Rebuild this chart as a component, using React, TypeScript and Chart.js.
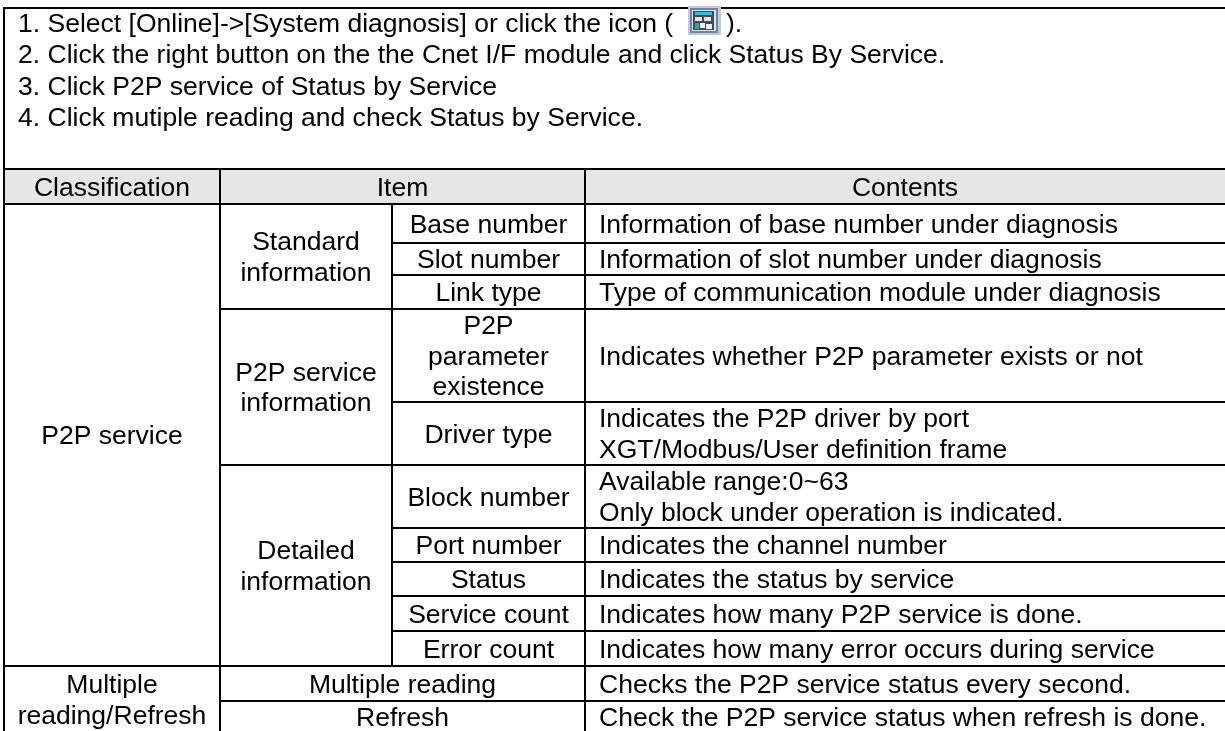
import React, { useEffect, useRef } from "react";
import { Chart, registerables } from "chart.js";

Chart.register(...registerables);

const FONT = '"Liberation Sans", Arial, sans-serif';
const FONT_SIZE = 25.5;
const H_STRETCH = 1.04;
const LINE_GAP = 30.5;

const introLines = [
  "1. Select [Online]->[System diagnosis] or click the icon (",
  "2. Click the right button on the the Cnet I/F module and click Status By Service.",
  "3. Click P2P service of Status by Service",
  "4. Click mutiple reading and check Status by Service.",
];
const iconCloseText = ").";
const introBaselines = [32, 63, 95, 126];

const colEdges = [4, 220, 392, 585, 1225];
const rowEdges = [8, 169, 204, 243, 275, 309, 402, 465, 528, 562, 596, 631, 666, 701, 733];

// [col from, col to, row from, row to, text lines, align]
const cells: [number, number, number, number, string[], string][] = [
  [0, 1, 1, 2, ["Classification"], "center"],
  [1, 3, 1, 2, ["Item"], "center"],
  [3, 4, 1, 2, ["Contents"], "center"],
  [0, 1, 2, 12, ["P2P service"], "center"],
  [1, 2, 2, 5, ["Standard", "information"], "center"],
  [1, 2, 5, 7, ["P2P service", "information"], "center"],
  [1, 2, 7, 12, ["Detailed", "information"], "center"],
  [2, 3, 2, 3, ["Base number"], "center"],
  [2, 3, 3, 4, ["Slot number"], "center"],
  [2, 3, 4, 5, ["Link type"], "center"],
  [2, 3, 5, 6, ["P2P", "parameter", "existence"], "center"],
  [2, 3, 6, 7, ["Driver type"], "center"],
  [2, 3, 7, 8, ["Block number"], "center"],
  [2, 3, 8, 9, ["Port number"], "center"],
  [2, 3, 9, 10, ["Status"], "center"],
  [2, 3, 10, 11, ["Service count"], "center"],
  [2, 3, 11, 12, ["Error count"], "center"],
  [3, 4, 2, 3, ["Information of base number under diagnosis"], "left"],
  [3, 4, 3, 4, ["Information of slot number under diagnosis"], "left"],
  [3, 4, 4, 5, ["Type of communication module under diagnosis"], "left"],
  [3, 4, 5, 6, ["Indicates whether P2P parameter exists or not"], "left"],
  [3, 4, 6, 7, ["Indicates the P2P driver by port", "XGT/Modbus/User definition frame"], "left"],
  [3, 4, 7, 8, ["Available range:0~63", "Only block under operation is indicated."], "left"],
  [3, 4, 8, 9, ["Indicates the channel number"], "left"],
  [3, 4, 9, 10, ["Indicates the status by service"], "left"],
  [3, 4, 10, 11, ["Indicates how many P2P service is done."], "left"],
  [3, 4, 11, 12, ["Indicates how many error occurs during service"], "left"],
  [0, 1, 12, 14, ["Multiple", "reading/Refresh"], "center"],
  [1, 3, 12, 13, ["Multiple reading"], "center"],
  [1, 3, 13, 14, ["Refresh"], "center"],
  [3, 4, 12, 13, ["Checks the P2P service status every second."], "left"],
  [3, 4, 13, 14, ["Check the P2P service status when refresh is done."], "left"],
];

// Table rules: [x-edge from, x-edge to, y-edge from, y-edge to]
const rules: [number, number, number, number][] = [
  [0, 4, 0, 0],
  [0, 4, 1, 1],
  [0, 4, 2, 2],
  [2, 4, 3, 3],
  [2, 4, 4, 4],
  [1, 4, 5, 5],
  [2, 4, 6, 6],
  [1, 4, 7, 7],
  [2, 4, 8, 8],
  [2, 4, 9, 9],
  [2, 4, 10, 10],
  [2, 4, 11, 11],
  [0, 4, 12, 12],
  [1, 4, 13, 13],
  [0, 0, 0, 14],
  [1, 1, 1, 14],
  [2, 2, 2, 12],
  [3, 3, 1, 14],
];

// Toolbar icon: [x, y, w, h, colour]
const iconParts: [number, number, number, number, string][] = [
  [688, 6, 33, 29, "#c3c9d6"],
  [690, 8, 28, 25, "#6f83a8"],
  [692, 10, 24, 21, "#dfe3ea"],
  [693, 11, 21, 19, "#3c4a63"],
  [695, 12, 17, 3, "#37c2d8"],
  [695, 17, 7, 4, "#e8e8e8"],
  [704, 17, 7, 4, "#e8e8e8"],
  [695, 23, 4, 6, "#2fa7a0"],
  [700, 23, 5, 5, "#f4f4f4"],
  [706, 24, 6, 5, "#f4f4f4"],
];

const tablePlugin = {
  id: "tableCells",
  beforeDatasetsDraw(chart: any) {
    const { ctx, scales } = chart;
    const X = (v: number) => scales.x.getPixelForValue(v);
    const Y = (v: number) => scales.y.getPixelForValue(v);
    ctx.save();
    ctx.fillStyle = "#e6e6e6";
    ctx.fillRect(X(colEdges[0]), Y(rowEdges[1]), X(colEdges[4]) - X(colEdges[0]), Y(rowEdges[2]) - Y(rowEdges[1]));
    ctx.restore();
  },
  afterDatasetsDraw(chart: any) {
    const { ctx, scales } = chart;
    const X = (v: number) => scales.x.getPixelForValue(v);
    const Y = (v: number) => scales.y.getPixelForValue(v);
    const put = (t: string, x: number, y: number, align: string) => {
      ctx.save();
      ctx.translate(x, y);
      ctx.scale(H_STRETCH, 1);
      ctx.textAlign = align;
      ctx.fillText(t, 0, 0);
      ctx.restore();
    };
    ctx.save();
    iconParts.forEach(([x, y, w, h, c]) => {
      ctx.fillStyle = c;
      ctx.fillRect(X(x), Y(y), w, h);
    });
    ctx.fillStyle = "#000";
    ctx.font = `${FONT_SIZE}px ${FONT}`;
    ctx.textBaseline = "alphabetic";
    introLines.forEach((t, i) => put(t, X(18), Y(introBaselines[i]), "left"));
    put(iconCloseText, X(726), Y(introBaselines[0]), "left");
    cells.forEach(([c0, c1, r0, r1, lines, align]) => {
      const yc = (Y(rowEdges[r0]) + Y(rowEdges[r1])) / 2;
      const first = yc - ((lines.length - 1) * LINE_GAP) / 2 + 9;
      lines.forEach((t, i) => {
        const ly = first + i * LINE_GAP;
        if (align === "center") {
          put(t, (X(colEdges[c0]) + X(colEdges[c1])) / 2, ly, "center");
        } else {
          put(t, X(colEdges[c0]) + 14, ly, "left");
        }
      });
    });
    ctx.restore();
  },
};

export default function App() {
  const ref = useRef<HTMLCanvasElement | null>(null);
  useEffect(() => {
    document.body.style.margin = "0";
    document.body.style.background = "#fff";
    const chart = new Chart(ref.current as HTMLCanvasElement, {
      type: "line",
      data: {
        datasets: rules.map(([c0, c1, r0, r1], i) => ({
          label: `Rule ${i + 1}`,
          data: [
            { x: colEdges[c0], y: rowEdges[r0] },
            { x: colEdges[c1], y: rowEdges[r1] },
          ],
          borderColor: "#000",
          borderWidth: 2,
          pointRadius: 0,
          fill: false,
          tension: 0,
          borderCapStyle: "square",
        })) as any,
      },
      options: {
        animation: false,
        responsive: false,
        layout: { padding: 0 },
        plugins: { legend: { display: false }, title: { display: false }, tooltip: { enabled: false } },
        scales: {
          x: { type: "linear", min: 0, max: 1225, display: false },
          y: { type: "linear", min: 0, max: 731, reverse: true, display: false },
        },
      },
      plugins: [tablePlugin],
    });
    return () => chart.destroy();
  }, []);
  return <canvas ref={ref} width={1225} height={731} style={{ display: "block" }} />;
}
